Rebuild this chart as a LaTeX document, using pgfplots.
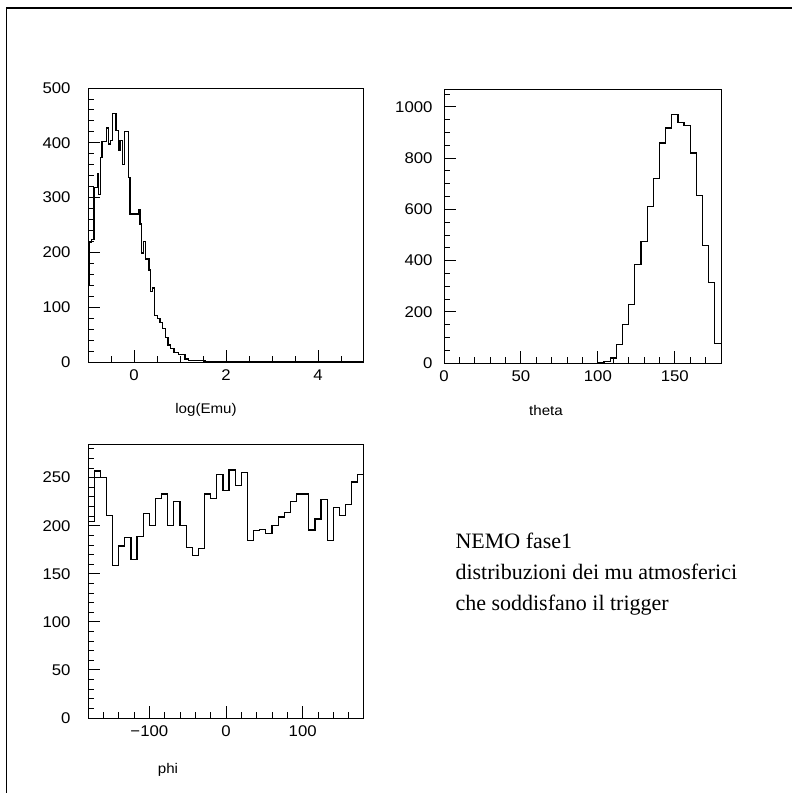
\documentclass[border=0pt]{standalone}
\usepackage{fontspec}
\usepackage{pgfplots}
\pgfplotsset{compat=1.18}
\newfontfamily\pawfont[FakeStretch=1.08]{Liberation Sans}
\newfontfamily\timesfont{Liberation Serif}
\newcommand\pawsize{\pawfont\fontsize{15.5bp}{17bp}\selectfont}
\newcommand\pawtitle{\pawfont\fontsize{14bp}{16bp}\selectfont}

% PAW-like histogram frame
\pgfplotsset{
  pawax/.style={
    scale only axis, width=276bp, height=274bp,
    axis line style={line width=1bp},
    tick align=inside, xtick pos=bottom, ytick pos=left,
    major tick length=12bp, minor tick length=6bp,
    every tick/.style={black, line width=0.9bp},
    every minor tick/.style={black, line width=0.9bp},
    tick label style={font=\pawsize},
    /pgf/number format/assume math mode=true,
    /pgf/number format/1000 sep={},
    yticklabel style={xshift=-14bp},
    xticklabel style={yshift=-4bp},
  },
  hist/.style={const plot, black, line width=1.2bp, mark=none},
}

\begin{document}
\begin{tikzpicture}
\path[use as bounding box, fill=white] (0bp,0bp) rectangle (792bp,-793bp);
\draw[line width=1.3bp] (6.5bp,-793bp) -- (6.5bp,-8bp) -- (792bp,-8bp);

% log(Emu)
\begin{axis}[pawax, at={(88bp,-362bp)}, anchor=south west,
    xmin=-1, xmax=5, ymin=0, ymax=500,
    xtick={0,2,4}, minor xtick={-0.5,0.5,1,1.5,2.5,3,3.5,4.5},
    ytick={0,100,200,300,400,500}, minor ytick={20,40,...,480}]
\addplot[hist] coordinates {
(-1.000,139) (-0.971,218) (-0.920,224) (-0.870,318) (-0.800,343)
(-0.780,306) (-0.725,373) (-0.696,403) (-0.652,403) (-0.594,427)
(-0.551,398) (-0.514,404) (-0.471,454) (-0.391,422) (-0.333,386)
(-0.304,404) (-0.246,361) (-0.203,421) (-0.116,336) (-0.087,270)
(0.094,278) (0.130,252) (0.167,199) (0.203,220) (0.254,188)
(0.326,168) (0.362,128) (0.406,135) (0.449,85) (0.507,80)
(0.565,72) (0.623,61) (0.681,45) (0.739,31) (0.797,25)
(0.870,17.5) (0.964,13) (1.109,5.5) (1.181,2.5) (1.543,0) (5,0)
};
\draw[line width=2.2bp] (axis cs:-1,500) -- (axis cs:-0.73,500);
\end{axis}
\node[font=\pawtitle] at (206bp,-410bp) {log(Emu)};

% theta
\begin{axis}[pawax, at={(444bp,-363bp)}, anchor=south west, width=277bp,
    yticklabel style={xshift=6bp},
    xmin=0, xmax=180, ymin=0, ymax=1070,
    xtick={0,50,100,150}, minor xtick={10,20,...,170},
    ytick={0,200,400,600,800,1000}, minor ytick={50,100,...,1050}]
\addplot[hist] coordinates {
(100,2) (104,6.5) (108,19.5) (112,72) (116,150) (120,228) (124,384)
(128,473) (132,612) (136,720) (140,859) (144,918) (148,970) (152,940)
(156,927) (160,820) (164,654) (168,460) (172,315) (176,75) (180,75)
};
\end{axis}
\node[font=\pawtitle] at (546bp,-410bp) {theta};

% phi
\begin{axis}[pawax, at={(88bp,-718bp)}, anchor=south west,
    xmin=-180, xmax=180, ymin=0, ymax=285,
    xtick={-100,0,100}, xticklabels={−100,0,100},
    minor xtick={-160,-140,...,160},
    ytick={0,50,100,150,200,250}, minor ytick={10,20,...,280}]
\addplot[hist] coordinates {
(-180,204) (-172,257) (-164,250) (-156,211) (-148,159) (-140,179)
(-132,187.5) (-124,165) (-116,188.5) (-108,212.5) (-100,200) (-92,228)
(-84,233) (-76,200) (-68,225.6) (-60,200) (-52,177) (-44,169)
(-36,176) (-28,233) (-20,228) (-12,253) (-4,237) (4,258)
(12,242) (20,255) (28,185) (36,195) (44,196) (52,192)
(60,200) (68,209) (76,214) (84,225) (92,233) (100,233)
(108,195.5) (116,207) (124,227) (132,185) (140,219) (148,211)
(156,222) (164,245.5) (172,253) (180,253)
};
\end{axis}
\node[font=\pawtitle] at (168bp,-770bp) {phi};

\node[font=\timesfont\fontsize{22bp}{31bp}\selectfont, align=left, anchor=north west]
  at (452bp,-529bp) {NEMO fase1\\distribuzioni dei mu atmosferici\\che soddisfano il trigger};
\end{tikzpicture}
\end{document}
